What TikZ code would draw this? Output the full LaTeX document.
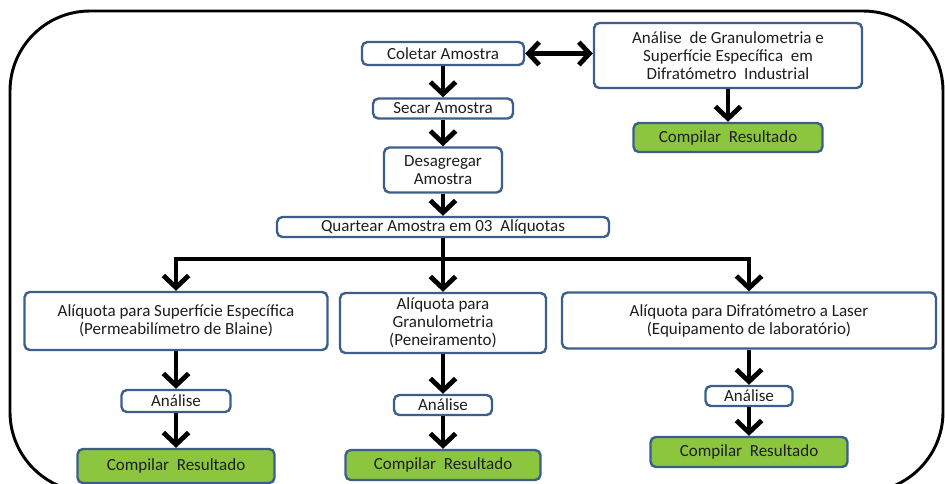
\documentclass[tikz,border=0pt]{standalone}
\usepackage{fontspec}
\setmainfont{Carlito}
\usepackage{tikz}
\usetikzlibrary{arrows.meta, positioning}
\definecolor{edge}{HTML}{3B5E8C}
\definecolor{leaf}{HTML}{8CC63F}
\definecolor{ink}{HTML}{1E1E1E}
\tikzset{
  box/.style   ={draw=edge, line width=1.8pt, rounded corners=4pt, fill=white,
                 text=ink, align=center, inner sep=0pt,
                 font=\fontsize{12.75}{13.5}\selectfont},
  boxr/.style  ={box, fill=leaf},
  flow/.style  ={-{Straight Barb[length=9pt,width=19pt]}, line width=3.6pt, draw=black},
  flowb/.style ={{Straight Barb[length=8pt,width=17pt]}-{Straight Barb[length=8pt,width=17pt]},
                 line width=3.6pt, draw=black},
  frame/.style ={draw=black, line width=2.2pt, rounded corners=60pt}
}

\begin{document}
\begin{tikzpicture}[x=0.75pt, y=-0.75pt]
  \useasboundingbox (0,0) rectangle (945,483);
  \draw[frame] (10,11) rectangle (943,492);

  % preparo da amostra
  \node[box, minimum width=121.5pt, minimum height=17.25pt] (coletar) at (443,53.5) {Coletar Amostra};
  \node[box, minimum width=105pt,   minimum height=15pt]    (secar)   at (443,108.5) {Secar Amostra};
  \node[box, minimum width=88.5pt,  minimum height=33.75pt] (desag)   at (443,170) {Desagregar\\Amostra};
  \node[box, minimum width=249pt,   minimum height=15pt]    (quartear) at (443,227) {Quartear Amostra em 03\ \ Alíquotas};

  \node[box, minimum width=201pt, minimum height=48.75pt] (analiseGS) at (728,55.5)
       {Análise\ \ de Granulometria e\\Superfície Específica\ \ em\\Difratómetro\ \ Industrial};
  \node[boxr, minimum width=141.75pt, minimum height=21.75pt] (compilarGS) at (728,137.5) {Compilar\ \ Resultado};

  \coordinate (split) at (443,259);

  % aliquotas
  \node[box, minimum width=227.25pt, minimum height=43.5pt] (aliqSup) at (176,321)
       {Alíquota para Superfície Específica\\(Permeabilímetro de Blaine)};
  \node[box, minimum width=154.5pt, minimum height=45pt] (aliqGran) at (443,323)
       {Alíquota para\\Granulometria\\(Peneiramento)};
  \node[box, minimum width=280.5pt, minimum height=42pt] (aliqLaser) at (749,320.5)
       {Alíquota para Difratómetro a Laser\\(Equipamento de laboratório)};

  \node[box, minimum width=81.75pt, minimum height=16.5pt] (anSup)   at (176,401) {Análise};
  \node[box, minimum width=73.5pt,  minimum height=15pt]   (anGran)  at (443,405) {Análise};
  \node[box, minimum width=65.25pt, minimum height=15pt]   (anLaser) at (749,396) {Análise};

  \node[boxr, minimum width=147.75pt, minimum height=25.5pt] (compSup)   at (176,466) {Compilar\ \ Resultado};
  \node[boxr, minimum width=146.25pt, minimum height=22.5pt] (compGran)  at (443,465) {Compilar\ \ Resultado};
  \node[boxr, minimum width=147.75pt, minimum height=22.5pt] (compLaser) at (749,452) {Compilar\ \ Resultado};

  \draw[flow]  (coletar) -- (secar);
  \draw[flow]  (secar) -- (desag);
  \draw[flow]  (desag) -- (quartear);
  \draw[flowb] (coletar) -- (analiseGS.west |- coletar.east);
  \draw[flow]  (analiseGS) -- (compilarGS);

  \draw[flow] (quartear) -- (aliqGran);
  \draw[flow] (split) -| (aliqSup.north);
  \draw[flow] (split) -| (aliqLaser.north);

  \draw[flow] (aliqSup) -- (anSup);
  \draw[flow] (anSup) -- (compSup);
  \draw[flow] (aliqGran) -- (anGran);
  \draw[flow] (anGran) -- (compGran);
  \draw[flow] (aliqLaser) -- (anLaser);
  \draw[flow] (anLaser) -- (compLaser);
\end{tikzpicture}
\end{document}
